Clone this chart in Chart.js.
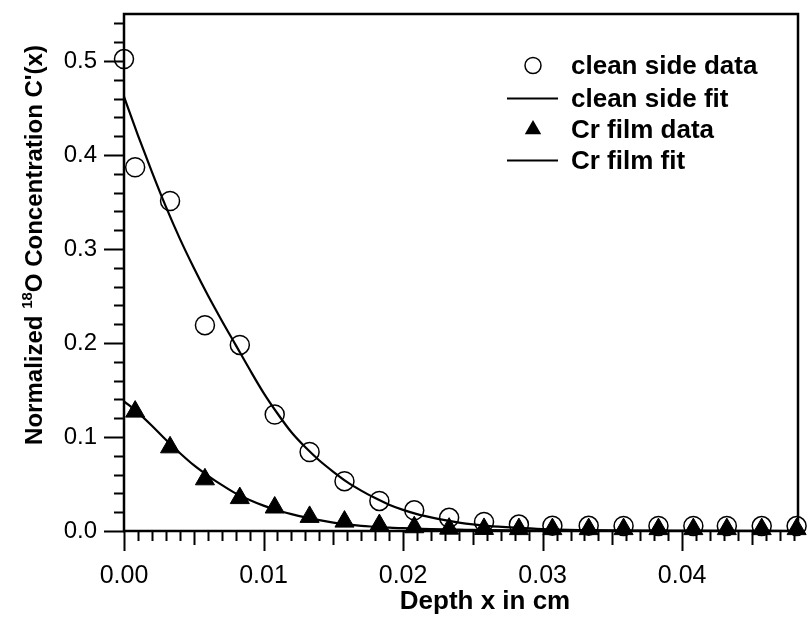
<!DOCTYPE html>
<html>
<head>
<meta charset="utf-8">
<title>18O depth profile</title>
<script src="https://cdn.jsdelivr.net/npm/chart.js@4.4.0/dist/chart.umd.min.js"></script>
<style>
  html, body { margin: 0; padding: 0; background: #fff; }
  #wrap { width: 810px; height: 619px; }
</style>
</head>
<body>
<div id="wrap"><canvas id="profileChart" width="810" height="619"></canvas></div>
<script>
// measured depths (cm)
const cleanDepth = [0, 0.0008, 0.0033, 0.0058, 0.0083, 0.0108, 0.0133, 0.0158, 0.0183, 0.0208, 0.0233,
  0.0258, 0.0283, 0.0307, 0.0333, 0.0358, 0.0383, 0.0408, 0.0432, 0.0457, 0.0482];
const cleanValues = [0.502, 0.387, 0.351, 0.219, 0.198, 0.124, 0.084, 0.053, 0.032, 0.022, 0.014,
  0.0096, 0.0068, 0.0057, 0.0055, 0.0054, 0.0054, 0.0053, 0.0053, 0.0052, 0.0052];

const crDepth = [0.0008, 0.0033, 0.0058, 0.0083, 0.0108, 0.0133, 0.0158, 0.0183, 0.0208, 0.0233,
  0.0258, 0.0283, 0.0307, 0.0333, 0.0358, 0.0383, 0.0408, 0.0432, 0.0457, 0.0482];
const crValues = [0.127, 0.089, 0.055, 0.035, 0.025, 0.015, 0.010, 0.0063, 0.0040, 0.0025,
  0.0022, 0.0020, 0.0020, 0.0020, 0.0020, 0.0020, 0.0020, 0.0020, 0.0020, 0.0020];

// fitted profiles
const fitDepth = [0, 0.001, 0.002, 0.003, 0.004, 0.005, 0.006, 0.007, 0.008, 0.009,
  0.010, 0.011, 0.012, 0.013, 0.014, 0.015, 0.016, 0.017, 0.018, 0.019,
  0.020, 0.021, 0.022, 0.023, 0.024, 0.025, 0.026,
  0.028, 0.030, 0.033, 0.036, 0.040, 0.044, 0.0483];
const cleanFit = [0.462, 0.421, 0.382, 0.345, 0.311, 0.280, 0.251, 0.224, 0.198, 0.172,
  0.147, 0.125, 0.105, 0.089, 0.075, 0.063, 0.052, 0.043, 0.035, 0.028,
  0.0225, 0.018, 0.0145, 0.0115, 0.009, 0.007, 0.0055,
  0.0035, 0.002, 0.001, 0.0005, 0.0002, 0.0001, 0];
const crFit = [0.138, 0.126, 0.112, 0.097, 0.083, 0.070, 0.059, 0.049, 0.040, 0.033,
  0.027, 0.022, 0.018, 0.0145, 0.0115, 0.009, 0.007, 0.0055, 0.0045, 0.0035,
  0.003, 0.0025, 0.002, 0.0017, 0.0015, 0.0012, 0.001,
  0.0007, 0.0005, 0.0003, 0.0002, 0.0001, 0, 0];

const seriesLabels = ['clean side data', 'clean side fit', 'Cr film data', 'Cr film fit'];

const xMax = 0.0483;
const yMax = 0.55;

const pairs = (xs, ys) => xs.map((x, i) => ({ x: x, y: ys[i] }));

const sans = '"Liberation Sans", Arial, sans-serif';

// no extra room around the scales, the frame sits at fixed margins
const tightScale = (size, key) => s => {
  s[key] = size;
  s.paddingTop = 0;
  s.paddingBottom = 0;
  s.paddingLeft = 0;
  s.paddingRight = 0;
};

// frame, minor ticks, axis titles and the legend box
const decorations = {
  id: 'decorations',
  afterDraw(chart) {
    const ctx = chart.ctx;
    const { left, right, top, bottom } = chart.chartArea;
    const xs = chart.scales.x;
    const ys = chart.scales.y;
    ctx.save();
    ctx.strokeStyle = '#000';
    ctx.lineWidth = 2.5;
    ctx.strokeRect(left, top, right - left, bottom - top);

    // x ticks: every 0.001, longer at 0.005, longest at 0.01
    ctx.lineWidth = 2;
    ctx.beginPath();
    for (let i = 0; i <= 48; i++) {
      const px = Math.round(xs.getPixelForValue(i / 1000)) + 0.5;
      const len = i % 10 === 0 ? 20 : (i % 5 === 0 ? 14 : 10);
      ctx.moveTo(px, bottom);
      ctx.lineTo(px, bottom + len);
    }
    // y ticks: every 0.02, longer at 0.1
    for (let j = 0; j <= 27; j++) {
      const py = Math.round(ys.getPixelForValue(j / 50)) + 0.5;
      const len = j % 5 === 0 ? 20 : 10;
      ctx.moveTo(left, py);
      ctx.lineTo(left - len, py);
    }
    ctx.stroke();

    ctx.fillStyle = '#000';
    // x title
    ctx.font = 'bold 26px ' + sans;
    ctx.textAlign = 'center';
    ctx.textBaseline = 'alphabetic';
    ctx.fillText('Depth x in cm', 485, 609);

    // y title with superscript mass number
    const bigFont = 'bold 24px ' + sans;
    const supFont = 'bold 15px ' + sans;
    const partA = 'Normalized ';
    const partB = '18';
    const partC = "O Concentration C'(x)";
    ctx.font = bigFont;
    const wA = ctx.measureText(partA).width;
    const wC = ctx.measureText(partC).width;
    ctx.font = supFont;
    const wB = ctx.measureText(partB).width;
    const total = wA + wB + wC;
    ctx.translate(42, 245 + total / 2);
    ctx.rotate(-Math.PI / 2);
    ctx.textAlign = 'left';
    ctx.font = bigFont;
    ctx.fillText(partA, 0, 0);
    ctx.font = supFont;
    ctx.fillText(partB, wA, -10);
    ctx.font = bigFont;
    ctx.fillText(partC, wA + wB, 0);
    ctx.restore();

    // legend
    ctx.save();
    const rows = [65.5, 98.5, 129.5, 160.5];
    const mx = 533;
    ctx.fillStyle = '#000';
    ctx.strokeStyle = '#000';
    ctx.font = 'bold 26px ' + sans;
    ctx.textAlign = 'left';
    ctx.textBaseline = 'middle';
    chart.data.datasets.forEach((ds, k) => {
      const cy = rows[k];
      ctx.beginPath();
      if (ds.pointStyle === 'circle') {
        ctx.lineWidth = 1.5;
        ctx.arc(mx, cy, 8, 0, Math.PI * 2);
        ctx.stroke();
      } else if (ds.pointStyle === 'triangle') {
        const r = 9.5;
        ctx.moveTo(mx, cy - r);
        ctx.lineTo(mx + r * 0.866, cy + r / 2);
        ctx.lineTo(mx - r * 0.866, cy + r / 2);
        ctx.closePath();
        ctx.fill();
      } else {
        ctx.lineWidth = 2;
        ctx.moveTo(507, cy);
        ctx.lineTo(558, cy);
        ctx.stroke();
      }
      ctx.fillText(ds.label, 571, cy + 1);
    });
    ctx.restore();
  }
};

new Chart(document.getElementById('profileChart'), {
  type: 'scatter',
  data: {
    datasets: [
      {
        label: seriesLabels[0],
        data: pairs(cleanDepth, cleanValues),
        showLine: false,
        pointStyle: 'circle',
        pointRadius: 9.5,
        pointBorderWidth: 1.5,
        pointBorderColor: '#000',
        pointBackgroundColor: 'rgba(0,0,0,0)',
        clip: false
      },
      {
        label: seriesLabels[1],
        data: pairs(fitDepth, cleanFit),
        showLine: true,
        pointRadius: 0,
        borderColor: '#000',
        borderWidth: 2.2,
        cubicInterpolationMode: 'monotone'
      },
      {
        label: seriesLabels[2],
        data: pairs(crDepth, crValues),
        showLine: false,
        pointStyle: 'triangle',
        pointRadius: 11,
        pointBorderWidth: 1,
        pointBorderColor: '#000',
        pointBackgroundColor: '#000',
        clip: false
      },
      {
        label: seriesLabels[3],
        data: pairs(fitDepth, crFit),
        showLine: true,
        pointRadius: 0,
        borderColor: '#000',
        borderWidth: 2.2,
        cubicInterpolationMode: 'monotone'
      }
    ]
  },
  options: {
    responsive: false,
    animation: false,
    layout: { padding: { top: 14, right: 4, left: 0, bottom: 0 } },
    plugins: {
      legend: { display: false },
      tooltip: { enabled: false }
    },
    scales: {
      x: {
        type: 'linear',
        min: 0,
        max: xMax,
        grid: { display: false, drawTicks: false },
        border: { display: false },
        ticks: {
          stepSize: 0.01,
          includeBounds: false,
          padding: 30,
          color: '#000',
          font: { family: sans, size: 25 },
          callback: v => v.toFixed(2)
        },
        afterFit: tightScale(88, 'height')
      },
      y: {
        type: 'linear',
        min: 0,
        max: yMax,
        grid: { display: false, drawTicks: false },
        border: { display: false },
        ticks: {
          stepSize: 0.1,
          includeBounds: false,
          padding: 27,
          color: '#000',
          font: { family: sans, size: 24 },
          callback: v => v.toFixed(1)
        },
        afterFit: tightScale(124, 'width')
      }
    }
  },
  plugins: [decorations]
});
</script>
</body>
</html>
